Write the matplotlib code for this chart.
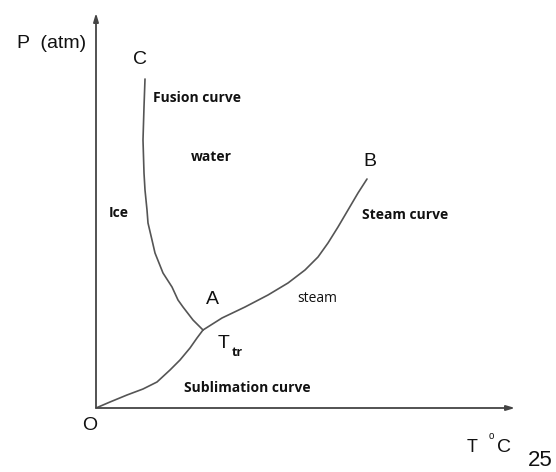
import matplotlib.pyplot as plt

# phase diagram of water (arbitrary units, origin at O)
sub_T = [0, 14, 31, 47, 61, 74, 84, 94, 101, 107]
sub_P = [0, 6, 13, 19, 26, 38, 48, 60, 70, 78]

fus_T = [107, 97, 87, 82, 76, 67, 59, 56, 52, 51, 49, 48, 47, 48, 49]
fus_P = [78, 88, 101, 108, 121, 135, 155, 168, 185, 198, 218, 235, 268, 301, 329]

steam_T = [107, 126, 149, 172, 192, 209, 222, 232, 242, 252, 262, 271]
steam_P = [78, 90, 101, 113, 125, 138, 151, 165, 181, 198, 215, 229]

line_col = '#555555'
lab_font = 'Open Sans'
let_font = 'Liberation Sans'

fig = plt.figure(figsize=(5.56, 4.72), dpi=100)
ax = fig.add_axes([96 / 556, 64 / 472, 419 / 556, 395 / 472])
ax.set_xlim(0, 419)
ax.set_ylim(0, 395)
ax.axis('off')

# axes with arrows
arrow = dict(arrowstyle='-|>,head_length=0.5,head_width=0.15', color='#444444', lw=1.3,
             shrinkA=0, shrinkB=0)
ax.annotate('', xy=(1, 0), xytext=(0, 0), xycoords='axes fraction', arrowprops=arrow)
ax.annotate('', xy=(0, 1), xytext=(0, 0), xycoords='axes fraction', arrowprops=arrow)

# curves
for T, P in [(sub_T, sub_P), (fus_T, fus_P), (steam_T, steam_P)]:
    ax.plot(T, P, color=line_col, lw=1.2, solid_capstyle='round', solid_joinstyle='round')

# letters
for s, x, y in [('C', 44, 348), ('B', 274, 246), ('A', 116, 108), ('O', -6, -18)]:
    ax.text(x, y, s, fontsize=14, family=let_font, color='#111111', ha='center', va='center')

ax.text(-79, 365, 'P  (atm)', fontsize=14, family=let_font, color='#111111', ha='left', va='center')
ax.text(371, -39, 'T', fontsize=13, family=let_font, color='#111111', ha='left', va='center')
ax.text(393, -28, 'o', fontsize=7, family=let_font, color='#111111', ha='left', va='center')
ax.text(401, -39, 'C', fontsize=14, family=let_font, color='#111111', ha='left', va='center')
ax.text(432, -53, '25', fontsize=16, family=let_font, color='#111111', ha='left', va='center')

# T_tr
ax.text(122, 65, 'T', fontsize=14, family=let_font, color='#111111', ha='left', va='center')
ax.text(136, 56, 'tr', fontsize=9, family=lab_font, weight='bold', color='#111111',
        ha='left', va='center')

# region / curve labels
for s, x, y, ha, w in [('Fusion curve', 57, 310, 'left', 'bold'),
                       ('water', 115, 251, 'center', 'bold'),
                       ('Ice', 13, 195, 'left', 'bold'),
                       ('Steam curve', 266, 193, 'left', 'bold'),
                       ('steam', 201, 110, 'left', 'normal'),
                       ('Sublimation curve', 88, 20, 'left', 'bold')]:
    ax.text(x, y, s, fontsize=10, family=lab_font, weight=w, color='#111111', ha=ha, va='center')

fig.savefig('out.png', dpi=100, facecolor='white')
